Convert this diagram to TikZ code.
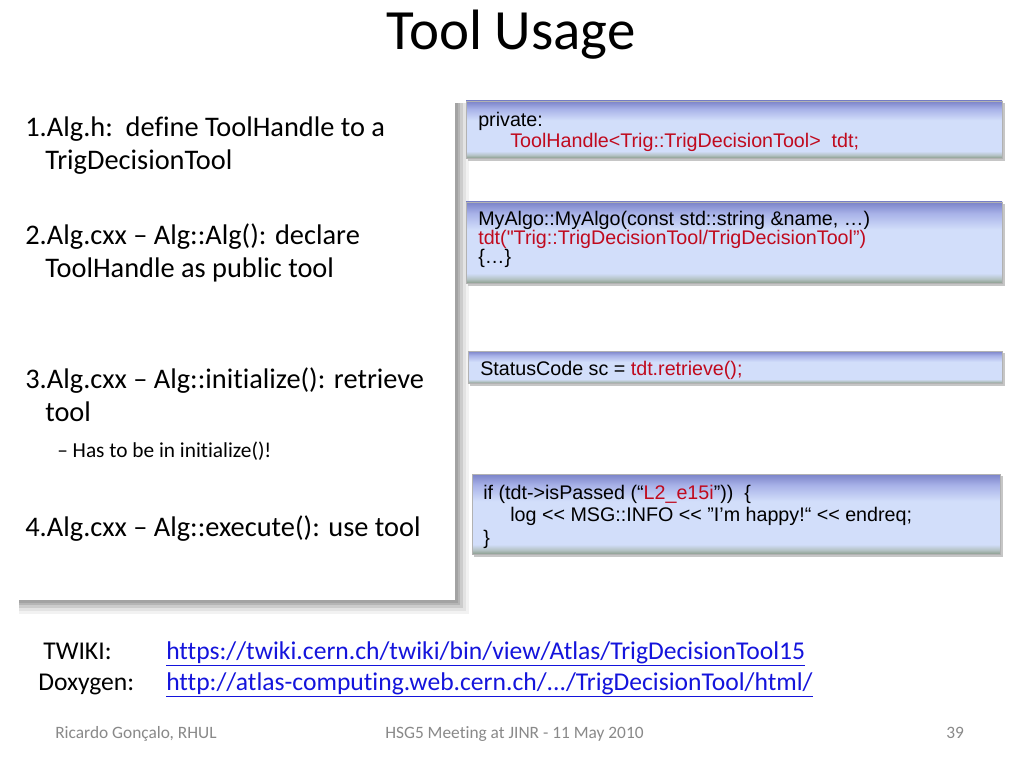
\documentclass[tikz,border=0pt]{standalone}
\usepackage{fontspec}
\setmainfont{Carlito}[Ligatures={NoCommon}]
\newfontfamily\arialf{Liberation Sans}
\definecolor{ctop}{RGB}{122,130,200}
\definecolor{cmid}{RGB}{168,178,232}
\definecolor{clight}{RGB}{210,222,250}
\definecolor{cbot2}{RGB}{180,194,196}
\definecolor{cbot}{RGB}{140,158,142}
\definecolor{codered}{RGB}{192,10,30}
\definecolor{linkblue}{RGB}{20,20,220}
\definecolor{footgray}{RGB}{137,137,137}
\pgfdeclareverticalshading{codeshade}{100bp}{color(0bp)=(cbot); color(25bp)=(cbot); color(27.5bp)=(cbot2); color(31bp)=(clight); color(58bp)=(clight); color(68bp)=(cmid); color(75bp)=(ctop); color(100bp)=(ctop)}
\tikzset{
  lt/.style={anchor=base west, inner sep=0pt, font=\fontsize{19.95}{23}\selectfont},
  subt/.style={anchor=base west, inner sep=0pt, font=\fontsize{15}{17}\selectfont},
  code/.style={anchor=base west, inner sep=0pt, font=\arialf\fontsize{13.85}{16}\selectfont},
  link/.style={anchor=base west, inner sep=0pt, text=linkblue, font=\fontsize{18}{21}\selectfont},
  lab/.style={anchor=base west, inner sep=0pt, font=\fontsize{18}{21}\selectfont},
  foot/.style={anchor=base west, inner sep=0pt, text=footgray, font=\fontsize{12.2}{14}\selectfont},
  codebox/.style={shading=codeshade, draw=gray!60, line width=0.4pt},
  cshadow/.style={fill=gray!45, draw=none},
}
\newcommand{\cboxdraw}[4]{%
  \fill[cshadow] (#1+2,#2+2) rectangle (#3+3,#4+3);
  \path[codebox] (#1,#2) rectangle (#3,#4);}
\begin{document}
\begin{tikzpicture}[x=0.703125pt, y=-0.703125pt]
\useasboundingbox[fill=white] (0,0) rectangle (1024,768);

% title
\node[anchor=base, inner sep=0pt, font=\fontsize{40}{48}\selectfont] (title) at (511,50) {Tool Usage};

% left box with shadow
\fill[gray!10] (19,103) rectangle (455+14,600+14);
\fill[gray!22] (19,103) rectangle (455+11,600+11);
\fill[gray!40] (19,103) rectangle (455+8,600+8);
\fill[gray!58] (19,103) rectangle (455+5,600+5);
\fill[gray!72] (19,103) rectangle (455+2.5,600+2.5);
\fill[white] (17,100) rectangle (455,600);

\node[lt] (l1a) at (25,137) {1.Alg.h:\hspace{0.15em} define ToolHandle to a};
\node[lt] (l1b) at (45,170) {TrigDecisionTool};
\node[lt] (l2a) at (25,245) {2.Alg.cxx – Alg::Alg(): declare};
\node[lt] (l2b) at (45,278) {ToolHandle as public tool};
\node[lt] (l3a) at (25,388) {3.Alg.cxx – Alg::initialize(): retrieve};
\node[lt] (l3b) at (45,421) {tool};
\node[subt] (l3c) at (57,457) {– Has to be in initialize()!};
\node[lt] (l4a) at (25,536) {4.Alg.cxx – Alg::execute(): use tool};

% code boxes
\cboxdraw{466}{101}{1002}{158}
\node[code] (c1a) at (478,127) {private:};
\node[code, text=codered] (c1b) at (510,148) {ToolHandle<Trig::TrigDecisionTool>\ \ tdt;};

\cboxdraw{466}{202}{1002}{283}
\node[code] (c2a) at (478,226) {MyAlgo::MyAlgo(const std::string \&name, …)};
\node[code, text=codered] (c2b) at (478,245) {tdt(\char"0022 Trig::TrigDecisionTool/TrigDecisionTool”)};
\node[code] (c2c) at (478,264) {\{…\}};

\cboxdraw{468}{351}{1002}{383}
\node[code] (c3a) at (480,375) {StatusCode sc = \textcolor{codered}{tdt.retrieve();}};

\cboxdraw{472}{474}{1000}{554}
\node[code] (c4a) at (483,499) {if (tdt->isPassed (“\textcolor{codered}{L2\_e15i}”))\ \ \{};
\node[code] (c4b) at (510,521) {log {<}{<} MSG::INFO {<}{<} ”I’m happy!“ {<}{<} endreq;};
\node[code] (c4c) at (483,544) {\}};

% links
\node[lab] (tw) at (43,659) {TWIKI:};
\node[link] (twl) at (166,659) {\underline{https://twiki.cern.ch/twiki/bin/view/Atlas/TrigDecisionTool15}};
\node[lab] (dx) at (38,690) {Doxygen:};
\node[link] (dxl) at (166,690) {\underline{http://atlas-computing.web.cern.ch/.../TrigDecisionTool/html/}};

% footer
\node[foot] (f1) at (55,738) {Ricardo Gonçalo, RHUL};
\node[foot] (f2) at (385,738) {HSG5 Meeting at JINR - 11 May 2010};
\node[foot] (f3) at (946,738) {39};
\end{tikzpicture}
\end{document}
